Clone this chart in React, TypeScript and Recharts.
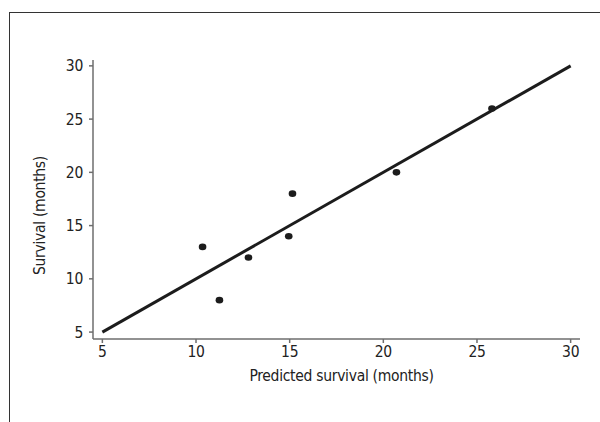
import React from "react";
import {
  ScatterChart,
  Scatter,
  XAxis,
  YAxis,
  ReferenceLine,
} from "recharts";

// observed vs predicted survival, months
const predicted = [10.35, 11.25, 12.8, 14.95, 15.15, 20.7, 25.8];
const observed = [13, 8, 12, 14, 18, 20, 26];

// fitted line endpoints (identity)
const fitX = [5, 30];
const fitY = [5, 30];

const xTicks = [5, 10, 15, 20, 25, 30];
const yTicks = [5, 10, 15, 20, 25, 30];

const points = predicted.map((x, i) => ({ x, y: observed[i] }));

const FONT = '"DejaVu Sans Condensed", "DejaVu Sans", sans-serif';
const AXIS = "#6e6e6e";
const INK = "#1c1c1c";

const Dot = (props: any) => {
  const { cx, cy } = props;
  if (cx == null || cy == null) return null;
  return <ellipse cx={cx} cy={cy} rx={3.8} ry={3.3} fill={INK} />;
};

export default function App() {
  const textStyle = { fill: "#222", fontSize: 15.5, fontFamily: FONT, fontStretch: "condensed", letterSpacing: -0.3 };

  return (
    <div style={{ position: "absolute", left: 0, top: 0, width: 600, height: 422, background: "#fff" }}>
      <div
        style={{
          position: "absolute",
          left: 9,
          top: 12,
          width: 600,
          height: 420,
          borderTop: "1.5px solid #333",
          borderLeft: "1.5px solid #333",
        }}
      />
      <ScatterChart
        width={600}
        height={422}
        margin={{ top: 60, right: 20, bottom: 0, left: 0 }}
        style={{ position: "absolute", left: 0, top: 0 }}
      >
        <XAxis
          type="number"
          dataKey="x"
          domain={[4.5, 30.5]}
          ticks={xTicks}
          height={83}
          tick={textStyle}
          tickSize={4}
          tickMargin={3}
          stroke={AXIS}
          strokeWidth={1.5}
          label={{
            value: "Predicted survival (months)",
            position: "insideTop",
            offset: 31,
            dx: 5,
            style: textStyle,
          }}
        />
        <YAxis
          type="number"
          dataKey="y"
          domain={[4.35, 30.55]}
          ticks={yTicks}
          width={93}
          tick={textStyle}
          tickSize={4}
          tickMargin={6}
          stroke={AXIS}
          strokeWidth={1.5}
          label={{
            value: "Survival (months)",
            angle: -90,
            position: "insideLeft",
            offset: 39,
            dy: 16,
            style: { ...textStyle, textAnchor: "middle" },
          }}
        />
        <ReferenceLine
          segment={[
            { x: fitX[0], y: fitY[0] },
            { x: fitX[1], y: fitY[1] },
          ]}
          stroke={INK}
          strokeWidth={3}
          ifOverflow="extendDomain"
        />
        <Scatter data={points} shape={<Dot />} isAnimationActive={false} />
      </ScatterChart>
    </div>
  );
}
